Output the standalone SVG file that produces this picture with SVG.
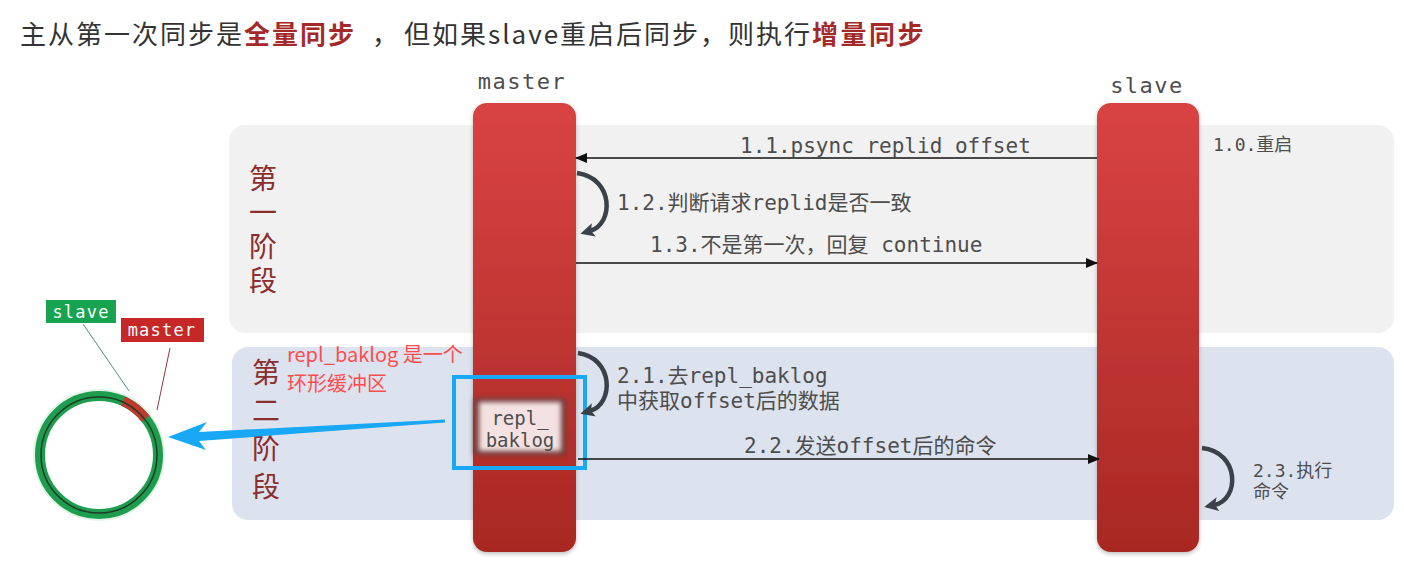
<svg xmlns="http://www.w3.org/2000/svg" width="1404" height="562" viewBox="0 0 1404 562">
<style>
.title{font-family:"Noto Sans CJK SC","Noto Sans",sans-serif;font-size:26px;letter-spacing:2px;fill:#333}
.hl{font-weight:bold;fill:#a42a2a}
.mono{font-family:"DejaVu Sans Mono","Noto Sans CJK SC",monospace;fill:#4d4d4d}
.lbl{font-size:21px}
.sm{font-size:18px}
.hdr{font-size:22px;letter-spacing:1.5px;text-anchor:middle;fill:#4d4d4d}
.phase{font-family:"Noto Sans CJK SC",sans-serif;font-size:28px;fill:#8b2e2e;writing-mode:vertical-rl}
.red{font-family:"Noto Sans CJK SC",sans-serif;font-size:20px;fill:#ff4d4d}
.tag{font-family:"DejaVu Sans Mono",monospace;font-size:17px;letter-spacing:1.2px;fill:#fff;text-anchor:middle}
.msg{stroke:#111;stroke-width:1.3;fill:none}
.loop{stroke:#3a4148;stroke-width:4.5;fill:none;marker-end:url(#loophead)}
</style>
<defs>
<linearGradient id="bar" x1="0" y1="0" x2="0" y2="1">
<stop offset="0" stop-color="#d94343"/>
<stop offset="1" stop-color="#a82823"/>
</linearGradient>
<marker id="head" markerWidth="12" markerHeight="10" refX="11" refY="5" orient="auto" markerUnits="userSpaceOnUse">
<path d="M0,0 L12,5 L0,10 Z" fill="#111"/>
</marker>
<marker id="loophead" markerWidth="16" markerHeight="16" refX="4" refY="8" orient="auto" markerUnits="userSpaceOnUse">
<path d="M0,1 L14,8 L0,15 L3,8 Z" fill="#3a4148"/>
</marker>
<filter id="blur2" x="-20%" y="-20%" width="140%" height="140%"><feGaussianBlur stdDeviation="2.5"/></filter>
<filter id="shadow" x="-20%" y="-5%" width="140%" height="110%"><feDropShadow dx="0" dy="2" stdDeviation="2" flood-color="#000" flood-opacity="0.25"/></filter>
</defs>

<rect width="1404" height="562" fill="#fff"/>

<text class="title" y="44"><tspan x="20">主从第一次同步是</tspan><tspan class="hl">全量同步</tspan><tspan x="372">，</tspan><tspan x="404">但如果slave重启后同步，则执行</tspan><tspan class="hl" letter-spacing="2.5">增量同步</tspan></text>

<g id="phase1">
<rect x="229" y="125" width="1165" height="208" rx="16" fill="#f1f1f1"/>
<text class="phase" x="263" y="164" letter-spacing="6">第一阶段</text>
</g>
<g id="phase2">
<rect x="232" y="347" width="1162" height="173" rx="16" fill="#dde3ee"/>
<text class="phase" x="266" y="358" letter-spacing="10">第二阶段</text>
</g>

<g id="master">
<text class="mono hdr" x="522" y="89">master</text>
<rect x="473" y="103" width="103" height="449" rx="14" fill="url(#bar)" filter="url(#shadow)"/>
</g>
<g id="slave">
<text class="mono hdr" x="1147" y="93">slave</text>
<rect x="1097" y="103" width="102" height="449" rx="14" fill="url(#bar)" filter="url(#shadow)"/>
</g>

<g id="repl_baklog">
<rect x="474" y="398" width="92" height="57" fill="#6e3a3a" filter="url(#blur2)"/>
<rect x="479" y="402" width="82" height="49" fill="#f4e2e2" filter="url(#blur2)"/>
<text class="mono" font-size="19" text-anchor="middle" x="520" y="425" fill="#555">repl_</text>
<text class="mono" font-size="19" text-anchor="middle" x="520" y="447" fill="#555">baklog</text>
</g>

<g id="highlight">
<rect x="454" y="377" width="131" height="91" fill="none" stroke="#18a8f5" stroke-width="4"/>
</g>

<g id="note">
<text class="red" x="287" y="362">repl_baklog 是一个</text>
<text class="red" x="287" y="391">环形缓冲区</text>
</g>

<g id="ringbuffer">
<circle cx="99" cy="455" r="64.5" fill="none" stroke="#e3f5e8" stroke-width="3"/>
<circle cx="99" cy="455" r="59" fill="#fff" stroke="#1f9d4e" stroke-width="10"/>
<path d="M123,401 A59,59 0 0 1 145.5,418.7" fill="none" stroke="#c0392b" stroke-width="10"/>
<circle cx="99" cy="455" r="58" fill="none" stroke="#1d3b28" stroke-width="1.5"/>
</g>

<g id="tag-slave">
<rect x="46" y="300" width="70" height="23" fill="#17a34f"/>
<text class="tag" x="81" y="318">slave</text>
</g>
<g id="tag-master">
<rect x="121" y="318" width="83" height="24" fill="#c62828"/>
<text class="tag" x="162" y="336">master</text>
</g>

<g id="connectors">
<line x1="83" y1="324" x2="129" y2="391" stroke="#4a8f80" stroke-width="1"/>
<line x1="170" y1="348" x2="157" y2="410" stroke="#8b3a3a" stroke-width="1"/>
<polygon points="168,437 207,422 199,432 445,419.5 445,422.5 199,441 206,450" fill="#18a8f5"/>

<line class="msg" x1="1097" y1="158" x2="576" y2="158" marker-end="url(#head)"/>
<line class="msg" x1="576" y1="263" x2="1097" y2="263" marker-end="url(#head)"/>
<line class="msg" x1="578" y1="459" x2="1099" y2="459" marker-end="url(#head)"/>

<path class="loop" d="M577,173 C614,178 614,224 590,231"/>
<path class="loop" d="M578,353 C614,358 614,404 590,411"/>
<path class="loop" d="M1202,448 C1240,452 1240,500 1214,505"/>
</g>

<g id="labels">
<text class="mono lbl" x="740" y="153">1.1.psync replid offset</text>
<text class="mono lbl" x="617" y="210">1.2.判断请求replid是否一致</text>
<text class="mono lbl" x="650" y="252">1.3.不是第一次，回复 continue</text>
<text class="mono lbl" x="617" y="383">2.1.去repl_baklog</text>
<text class="mono lbl" x="617" y="408">中获取offset后的数据</text>
<text class="mono lbl" x="744" y="453">2.2.发送offset后的命令</text>
<text class="mono sm" x="1213" y="151">1.0.重启</text>
<text class="mono sm" x="1253" y="477">2.3.执行</text>
<text class="mono sm" x="1253" y="498">命令</text>
</g>
</svg>
